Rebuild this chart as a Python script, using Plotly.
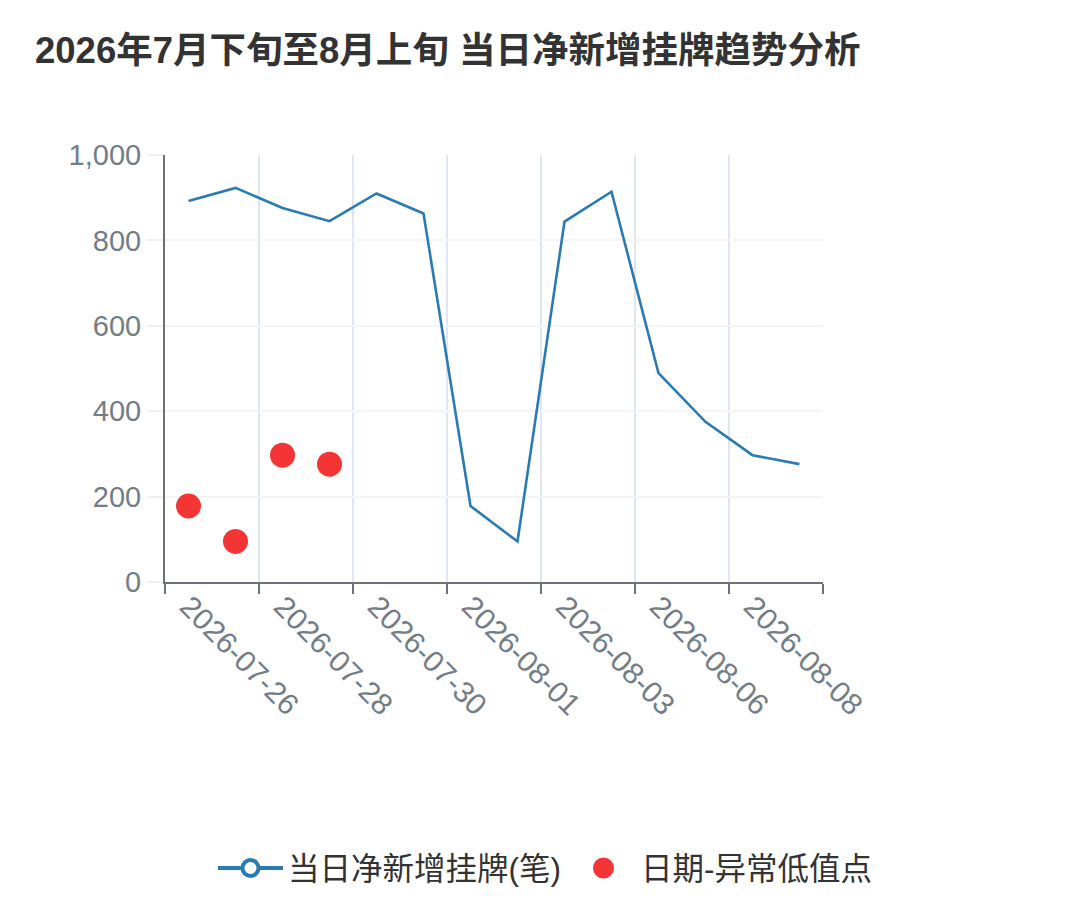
import plotly.graph_objects as go

dates = ["2026-07-26", "2026-07-27", "2026-07-28", "2026-07-29", "2026-07-30",
         "2026-07-31", "2026-08-01", "2026-08-02", "2026-08-03", "2026-08-05",
         "2026-08-06", "2026-08-07", "2026-08-08", "2026-08-09"]
net_new = [892, 923, 876, 845, 910, 863, 178, 95, 844, 914, 489, 375, 297, 276]
low_points = [178, 95, 297, 276]
low_positions = [0, 1, 2, 3]

line_name = "当日净新增挂牌(笔)"
low_name = "日期-异常低值点"
title = "2026年7月下旬至8月上旬 当日净新增挂牌趋势分析"

LINE_C = "#2b7bb3"
RED_C = "#f43535"
AXIS_C = "#6E7079"
TICK_C = "#737d85"
FONT = "Liberation Sans, Noto Sans CJK SC, sans-serif"

n = len(dates)
idx = list(range(n))
xr = [-0.5, n - 0.5]

fig = go.Figure()
fig.add_trace(go.Scatter(x=idx, y=net_new, mode="lines", name=line_name,
                         line=dict(color=LINE_C, width=2.6), showlegend=False))
# legend proxy for the line series (open circle + line)
fig.add_trace(go.Scatter(x=[None], y=[None], mode="lines+markers", name=line_name,
                         line=dict(color=LINE_C, width=4),
                         marker=dict(symbol="circle", size=16, color="white",
                                     line=dict(color=LINE_C, width=4))))
fig.add_trace(go.Scatter(x=low_positions, y=low_points, mode="markers", name=low_name,
                         xaxis="x2",
                         marker=dict(size=20, color=RED_C, line=dict(color=RED_C, width=5))))

fig.update_layout(
    width=1080, height=915,
    paper_bgcolor="white", plot_bgcolor="white",
    margin=dict(l=157, r=265, t=147, b=341),
    title=dict(text=title, x=27 / 1080, xanchor="left", xref="container",
               y=1 - 42 / 915, yanchor="middle", yref="container",
               font=dict(family=FONT, size=36.5, color="#333333", weight="bold")),
    font=dict(family=FONT, color=AXIS_C),
    xaxis=dict(range=xr, tickmode="array",
               tickvals=[i - 0.5 for i in range(0, n + 1, 2)],
               showticklabels=False, ticks="outside", ticklen=10, tickwidth=2,
               tickcolor=AXIS_C, showline=True, linecolor=AXIS_C, linewidth=2,
               showgrid=True, gridcolor="#E0E6F1", gridwidth=1.5, zeroline=False),
    xaxis2=dict(range=xr, overlaying="x", anchor="y", side="bottom",
                tickmode="array", tickvals=idx[::2], ticktext=dates[::2],
                tickangle=45, tickfont=dict(size=30, color=TICK_C, family=FONT),
                showgrid=False, showline=False, ticks="", zeroline=False),
    yaxis=dict(range=[0, 1000], dtick=200, tickformat=",d",
               tickfont=dict(size=29, color=TICK_C, family=FONT),
               ticks="outside", ticklen=16, tickcolor="#eef0f4", tickwidth=1.5,
               showline=True, linecolor=AXIS_C, linewidth=2,
               showgrid=True, gridcolor="#f3f4f6", gridwidth=1.5, zeroline=False),
    legend=dict(orientation="h", x=(869 - 157) / 658, xanchor="right",
                y=(574 - 860) / 427, yanchor="middle",
                font=dict(size=31.5, color="#333333", family=FONT),
                itemwidth=65, bgcolor="rgba(0,0,0,0)"),
)

fig.write_html("out.html")
